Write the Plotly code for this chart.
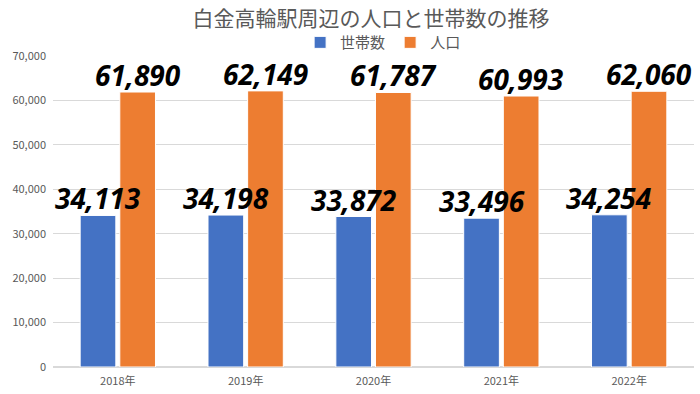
import plotly.graph_objects as go

years = ["2018年", "2019年", "2020年", "2021年", "2022年"]
households = [34113, 34198, 33872, 33496, 34254]
population = [61890, 62149, 61787, 60993, 62060]

title_text = "白金高輪駅周辺の人口と世帯数の推移"
cjk = "Noto Sans CJK JP"
grey = "#595959"

label_font = dict(family="Noto Sans", size=28, color="black", weight="bold", style="italic")

fig = go.Figure()
fig.add_bar(x=years, y=households, name="世帯数",
            marker=dict(color="#4472C4", line=dict(color="white", width=1)))
fig.add_bar(x=years, y=population, name="人口",
            marker=dict(color="#ED7D31", line=dict(color="white", width=1)))

bargap, groupgap = 0.38, 0.10
slot = (1 - bargap) / 2
for i in range(len(years)):
    for vals, off in ((households, -slot / 2), (population, slot / 2)):
        fig.add_annotation(x=i + off, y=vals[i], xref="x", yref="y",
                           text=f"{vals[i]:,}", showarrow=False,
                           yanchor="bottom", xanchor="center", yshift=-4,
                           font=label_font)

fig.update_layout(
    width=700, height=394,
    margin=dict(l=53, r=6, t=56, b=27),
    paper_bgcolor="white", plot_bgcolor="white",
    barmode="group", bargap=bargap, bargroupgap=groupgap,
    title=dict(text=title_text, x=0.53, xanchor="center", y=0.952, yanchor="middle",
               font=dict(family=cjk, size=21, color=grey)),
    legend=dict(orientation="h", x=0.515, xanchor="center", y=0.99, yanchor="bottom",
                font=dict(family=cjk, size=15, color=grey), itemwidth=30,
                tracegroupgap=0, bgcolor="rgba(0,0,0,0)"),
    font=dict(family=cjk, color=grey),
)
fig.update_yaxes(range=[0, 70000], dtick=10000, tickformat=",",
                 gridcolor="#D9D9D9", gridwidth=1, zeroline=True, zerolinecolor="#D9D9D9",
                 showline=False, tickfont=dict(family=cjk, size=11, color=grey),
                 ticklabelstandoff=6)
fig.update_xaxes(showline=True, linecolor="#D9D9D9", tickfont=dict(family=cjk, size=11, color=grey),
                 ticks="", ticklabelstandoff=4, automargin=False)

fig.write_html("out.html", config={"displayModeBar": False},
               post_script="document.body.style.margin='0';")
